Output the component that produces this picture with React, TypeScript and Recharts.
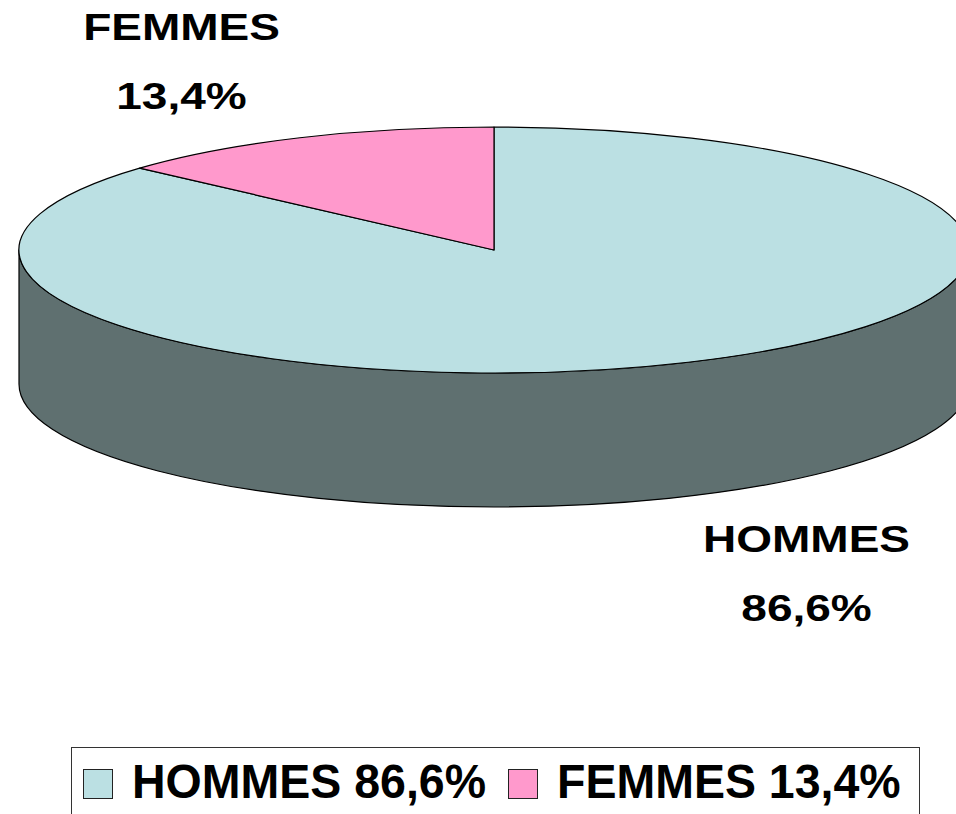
import { Legend, Pie, PieChart } from 'recharts';

const categories = ['HOMMES', 'FEMMES'];
const shares = [86.6, 13.4];
const topColors = ['#BBE0E3', '#FF99CC'];
const sideColors = ['#5F7070', '#99607A'];

const data = categories.map((name, i) => ({ name, value: shares[i], fill: topColors[i], side: sideColors[i] }));

const TILT = 123 / 475;
const DEPTH = 134;
const RAD = Math.PI / 180;

const fmt = (v: number) => `${v.toFixed(1).replace('.', ',')}%`;

function Slice3D(props: any) {
  const { cx, cy, outerRadius, startAngle, endAngle, fill, payload } = props;
  const rx = outerRadius;
  const ry = rx * TILT;
  const pt = (a: number, dy = 0) => `${cx + rx * Math.cos(a * RAD)},${cy - ry * Math.sin(a * RAD) + dy}`;
  const s = Math.max(startAngle, endAngle);
  const e = Math.min(startAngle, endAngle);
  const walls: string[] = [];
  for (const k of [-1, 0, 1]) {
    const lo = Math.max(e, -180 + 360 * k);
    const hi = Math.min(s, 360 * k);
    if (hi > lo) {
      walls.push(
        `M${pt(hi)} A${rx},${ry} 0 0 1 ${pt(lo)} L${pt(lo, DEPTH)} A${rx},${ry} 0 0 0 ${pt(hi, DEPTH)} Z`,
      );
    }
  }
  const large = s - e > 180 ? 1 : 0;
  const top = `M${cx},${cy} L${pt(s)} A${rx},${ry} 0 ${large} 1 ${pt(e)} Z`;
  const side = payload?.side ?? props.side ?? '#5F7070';
  return (
    <g>
      {walls.map((d, i) => (
        <path key={i} d={d} fill={side} stroke="#000" strokeWidth={1.2} strokeLinejoin="round" />
      ))}
      <path d={top} fill={fill} stroke="#000" strokeWidth={1.2} strokeLinejoin="round" />
    </g>
  );
}

function SliceLabel(props: any) {
  const { cx, cy, midAngle, outerRadius, name, value } = props;
  const rx = outerRadius;
  const ry = rx * TILT;
  const sin = Math.sin(midAngle * RAD);
  const x = cx + rx * 1.61 * Math.cos(midAngle * RAD);
  const y = cy - ry * 1.68 * sin + (sin < 0 ? DEPTH : 0);
  const style = { fontFamily: '"Liberation Sans", Arial, sans-serif', fontWeight: 700, fontSize: 46 };
  return (
    <g>
      <text transform={`translate(${x},${y - 21}) scale(1,0.82)`} textAnchor="middle" fill="#000" style={style}>
        {name}
      </text>
      <text transform={`translate(${x},${y + 48}) scale(1,0.82)`} textAnchor="middle" fill="#000" style={style}>
        {fmt(value)}
      </text>
    </g>
  );
}

function LegendBox() {
  return (
    <div
      style={{
        boxSizing: 'border-box',
        width: 849,
        height: 90,
        border: '1.5px solid #333',
        borderRight: '1.5px solid #333',
        display: 'flex',
        alignItems: 'flex-start',
        paddingLeft: 11,
        paddingTop: 21,
        fontFamily: '"Liberation Sans", Arial, sans-serif',
        fontWeight: 700,
        fontSize: 46.5,
        lineHeight: '30px',
        color: '#000',
      }}
    >
      {categories.map((name, i) => (
        <div key={name} style={{ display: 'flex', alignItems: 'center', marginRight: i === 0 ? 22 : 0 }}>
          <span
            style={{
              display: 'inline-block',
              boxSizing: 'border-box',
              width: 30,
              height: 30,
              background: topColors[i],
              border: '1.5px solid #222',
              marginRight: 19,
            }}
          />
          <span style={{ display: 'inline-block', transform: 'translateY(-3px) scaleY(1.05)', whiteSpace: 'nowrap' }}>
            {`${name} ${fmt(shares[i])}`}
          </span>
        </div>
      ))}
    </div>
  );
}

export default function App() {
  return (
    <div style={{ position: 'absolute', left: 0, top: 0, width: 956, height: 814, overflow: 'hidden', background: '#fff' }}>
      <PieChart width={956} height={814} margin={{ top: 0, right: 0, bottom: 0, left: 0 }}>
        <Pie
          data={data}
          dataKey="value"
          nameKey="name"
          cx={494}
          cy={250}
          outerRadius={475}
          startAngle={90}
          endAngle={-270}
          stroke="#000"
          isAnimationActive={false}
          labelLine={false}
          label={SliceLabel}
          shape={Slice3D}
          activeShape={Slice3D}
          inactiveShape={Slice3D}
        />
        <Legend
          content={LegendBox}
          wrapperStyle={{ position: 'absolute', left: 71, top: 747, width: 849, bottom: 'auto' }}
        />
      </PieChart>
    </div>
  );
}
